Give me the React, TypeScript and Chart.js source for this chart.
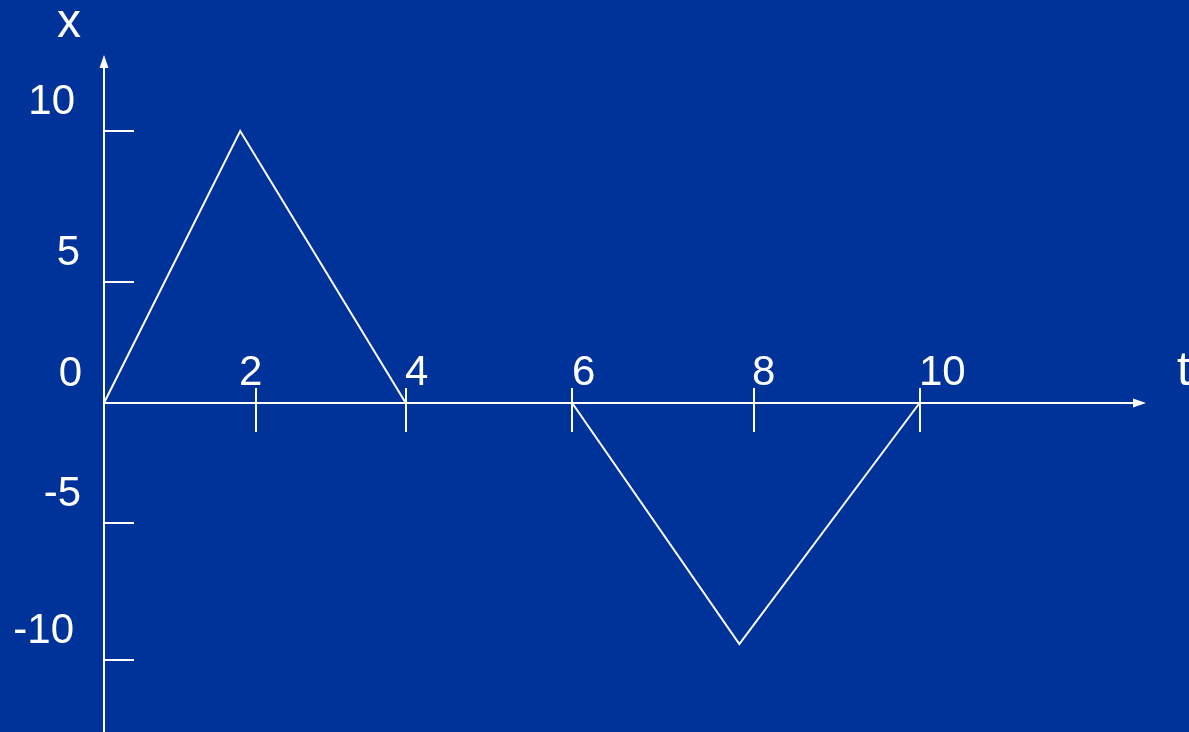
import React, { useEffect, useRef } from 'react';
import { Chart, registerables } from 'chart.js';

Chart.register(...registerables);

// ---- data (t along the horizontal axis, x up the vertical axis) ----
const timeValues = [0, 1.67, 3.70, 5.74, 7.79, 10.0];
const displacementValues = [0, 10, 0, 0, -8.86, 0];

// tick marks as drawn in the sketch
const xTickValues = [1.86, 3.70, 5.74, 7.97, 10.0];
const xTickLabels = ['2', '4', '6', '8', '10'];
const yTickValues = [10, 4.45, 0, -4.41, -9.45];
const yTickLabels = ['10', '5', '0', '-5', '-10'];

const xAxisTitle = 't';
const yAxisTitle = 'x';

// ---- style / placement (not data) ----
const BG = '#003399';
const FG = '#ffffff';
const FONT = '"Liberation Sans", Arial, Helvetica, sans-serif';
const xLabelDx = [-17, -1, 0, -2, -1];
const yLabelDx = [-29, -24, -22, -23, -30];

export default function App() {
  const ref = useRef<HTMLCanvasElement>(null);

  useEffect(() => {
    document.body.style.margin = '0';
    const canvas = ref.current;
    if (!canvas) return;

    const sketchAxes = {
      id: 'sketchAxes',
      beforeDraw(chart: any) {
        const { ctx } = chart;
        ctx.save();
        ctx.fillStyle = BG;
        ctx.fillRect(0, 0, chart.width, chart.height);
        ctx.restore();
      },
      beforeDatasetsDraw(chart: any) {
        const { ctx, chartArea } = chart;
        const xs = chart.scales.x;
        const ys = chart.scales.y;
        const ax = Math.round(xs.getPixelForValue(0));
        const ay = Math.round(ys.getPixelForValue(0));
        const top = chartArea.top;
        const right = chartArea.right;

        ctx.save();
        ctx.strokeStyle = FG;
        ctx.fillStyle = FG;
        ctx.lineWidth = 2;

        // vertical axis with arrow
        ctx.beginPath();
        ctx.moveTo(ax, chart.height);
        ctx.lineTo(ax, top + 10);
        ctx.stroke();
        ctx.beginPath();
        ctx.moveTo(ax, top);
        ctx.lineTo(ax - 4.5, top + 13);
        ctx.lineTo(ax + 4.5, top + 13);
        ctx.closePath();
        ctx.fill();

        // horizontal axis with arrow
        ctx.beginPath();
        ctx.moveTo(ax, ay);
        ctx.lineTo(right - 10, ay);
        ctx.stroke();
        ctx.beginPath();
        ctx.moveTo(right, ay);
        ctx.lineTo(right - 13, ay - 4.5);
        ctx.lineTo(right - 13, ay + 4.5);
        ctx.closePath();
        ctx.fill();

        // y ticks and labels
        ctx.font = `42px ${FONT}`;
        ctx.textBaseline = 'alphabetic';
        ctx.textAlign = 'right';
        yTickValues.forEach((v, i) => {
          const py = Math.round(ys.getPixelForValue(v));
          ctx.beginPath();
          ctx.moveTo(ax, py);
          ctx.lineTo(ax + 30, py);
          ctx.stroke();
          ctx.fillText(yTickLabels[i], ax + yLabelDx[i], py - 17);
        });

        // x ticks and labels
        ctx.textAlign = 'left';
        xTickValues.forEach((v, i) => {
          const px = Math.round(xs.getPixelForValue(v));
          ctx.beginPath();
          ctx.moveTo(px, ay - 15);
          ctx.lineTo(px, ay + 29);
          ctx.stroke();
          ctx.fillText(xTickLabels[i], px + xLabelDx[i], ay - 18);
        });

        // axis titles
        ctx.font = `48px ${FONT}`;
        ctx.textAlign = 'center';
        ctx.fillText(yAxisTitle, ax - 35, 37);
        ctx.textAlign = 'left';
        ctx.fillText(xAxisTitle, right + 31, ay - 18);

        ctx.restore();
      },
    };

    const chart = new Chart(canvas, {
      type: 'line',
      data: {
        datasets: [
          {
            data: timeValues.map((t, i) => ({ x: t, y: displacementValues[i] })),
            borderColor: FG,
            borderWidth: 2,
            pointRadius: 0,
            tension: 0,
            fill: false,
            clip: false as any,
          },
        ],
      },
      options: {
        responsive: false,
        animation: false,
        events: [],
        layout: { padding: { left: 104, right: 43, top: 55, bottom: 0 } },
        scales: {
          x: { type: 'linear', min: 0, max: 12.776, display: false },
          y: { type: 'linear', min: -12.096, max: 12.794, display: false },
        },
        plugins: {
          legend: { display: false },
          tooltip: { enabled: false },
          title: { display: false },
        },
      },
      plugins: [sketchAxes],
    });

    return () => chart.destroy();
  }, []);

  return (
    <div style={{ position: 'fixed', left: 0, top: 0, width: 1189, height: 732, background: BG }}>
      <canvas ref={ref} width={1189} height={732} style={{ display: 'block' }} />
    </div>
  );
}
